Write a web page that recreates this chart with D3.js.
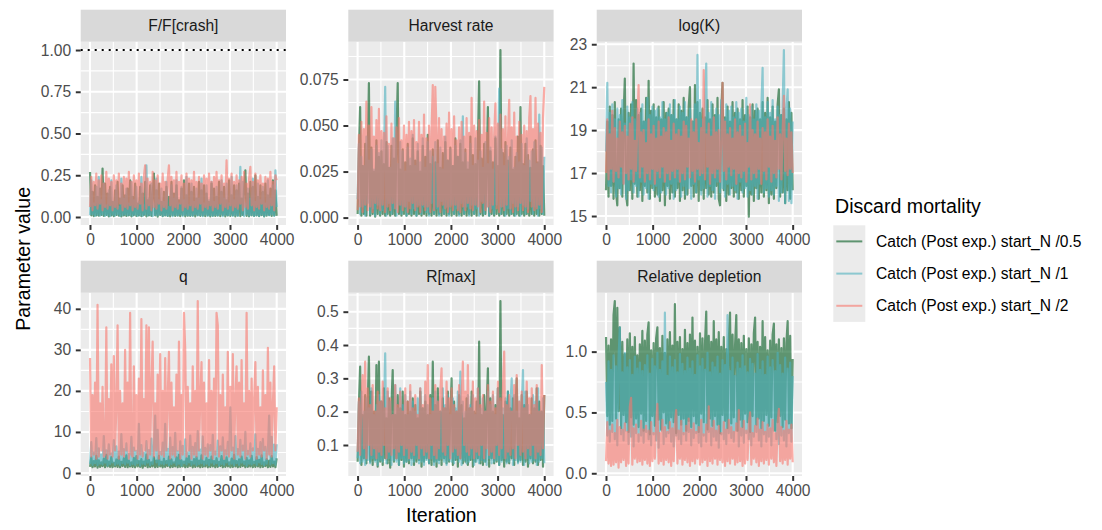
<!DOCTYPE html>
<html><head><meta charset="utf-8">
<script src="https://cdn.jsdelivr.net/npm/d3@7"></script>
<style>
body{margin:0;background:#fff;}
svg{display:block;font-family:"Liberation Sans",Arial,Helvetica,sans-serif;}
</style></head><body>
<svg id="chart" width="1102" height="530"></svg>
<script>
// ---------------- DATA ----------------
const panelTitles = ["F/F[crash]", "Harvest rate", "log(K)", "q", "R[max]", "Relative depletion"];
const seriesNames = ["Catch (Post exp.) start_N /0.5", "Catch (Post exp.) start_N /1", "Catch (Post exp.) start_N /2"];
const legendTitle = "Discard mortality";
const xTitle = "Iteration";
const yTitle = "Parameter value";
const iterationRange = [1, 4000];
const iterationTicks = [0, 1000, 2000, 3000, 4000];
const iterationTickLabels = ["0", "1000", "2000", "3000", "4000"];

// F/F[crash]
const ffcrash_05 = [0.27,0.01,0.15,0.005,0.19,0.01,0.12,0.008,0.17,0.012,
 0.29,0.006,0.20,0.012,0.14,0.004,0.18,0.01,0.09,0.005,
 0.16,0.012,0.21,0.008,0.11,0.003,0.19,0.01,0.13,0.006,
 0.17,0.01,0.22,0.004,0.12,0.011,0.20,0.007,0.08,0.01,
 0.18,0.005,0.14,0.012,0.21,0.004,0.10,0.009,0.19,0.006,
 0.13,0.26,0.01,0.16,0.002,0.20,0.012,0.09,0.005,0.15,
 0.01,0.18,0.007,0.12,0.004,0.21,0.011,0.14,0.006,0.19,
 0.009,0.10,0.005,0.17,0.012,0.22,0.004,0.13,0.008,0.20,
 0.006,0.15,0.01,0.18,0.003,0.11,0.012,0.21,0.007,0.16,
 0.01,0.19,0.005,0.14,0.011,0.09,0.004,0.20,0.008,0.17,
 0.006,0.12,0.01,0.21,0.005,0.15,0.012,0.18,0.004,0.10,
 0.009,0.22,0.006,0.13,0.011,0.19,0.003,0.16,0.01,0.20,
 0.005,0.11,0.012,0.17,0.28,0.007,0.14,0.004,0.21,0.01,
 0.18,0.006,0.25,0.009,0.12,0.005,0.19,0.011,0.15,0.004,
 0.20,0.008,0.13,0.012,0.17,0.006,0.22,0.01,0.16,0.007];
const ffcrash_1 = [0.01,0.22,0.015,0.08,0.006,0.18,0.012,0.24,0.008,0.10,
 0.014,0.20,0.007,0.07,0.011,0.16,0.005,0.22,0.013,0.09,
 0.008,0.19,0.016,0.06,0.006,0.23,0.01,0.11,0.015,0.17,
 0.009,0.08,0.012,0.21,0.006,0.10,0.014,0.18,0.007,0.09,
 0.011,0.24,0.006,0.07,0.016,0.31,0.008,0.11,0.013,0.20,
 0.005,0.08,0.012,0.23,0.009,0.10,0.015,0.17,0.006,0.09,
 0.011,0.21,0.007,0.06,0.014,0.19,0.005,0.11,0.012,0.22,
 0.008,0.08,0.016,0.18,0.006,0.10,0.013,0.24,0.009,0.07,
 0.011,0.20,0.006,0.09,0.015,0.17,0.008,0.11,0.012,0.23,
 0.005,0.08,0.014,0.19,0.007,0.10,0.011,0.21,0.006,0.09,
 0.013,0.18,0.008,0.07,0.016,0.22,0.005,0.11,0.012,0.20,
 0.009,0.08,0.014,0.24,0.006,0.10,0.011,0.19,0.007,0.09,
 0.30,0.012,0.21,0.005,0.08,0.015,0.17,0.008,0.11,0.013,
 0.23,0.006,0.09,0.011,0.20,0.007,0.10,0.014,0.18,0.005,
 0.08,0.012,0.22,0.009,0.11,0.015,0.19,0.006,0.28,0.06];
const ffcrash_2 = [0.06,0.24,0.04,0.21,0.07,0.26,0.05,0.22,0.08,0.25,
 0.04,0.20,0.06,0.27,0.05,0.23,0.07,0.21,0.04,0.25,
 0.06,0.22,0.05,0.26,0.08,0.20,0.04,0.24,0.06,0.23,
 0.05,0.27,0.07,0.21,0.04,0.25,0.06,0.22,0.05,0.26,
 0.08,0.20,0.04,0.24,0.31,0.05,0.23,0.07,0.21,0.04,
 0.27,0.06,0.22,0.05,0.25,0.08,0.20,0.04,0.26,0.06,
 0.21,0.05,0.23,0.31,0.07,0.24,0.04,0.22,0.06,0.27,
 0.05,0.21,0.08,0.25,0.04,0.20,0.06,0.26,0.05,0.23,
 0.07,0.22,0.04,0.27,0.06,0.21,0.05,0.24,0.08,0.20,
 0.04,0.25,0.06,0.23,0.05,0.26,0.07,0.21,0.04,0.24,
 0.06,0.27,0.05,0.22,0.08,0.25,0.04,0.20,0.06,0.34,
 0.05,0.23,0.07,0.26,0.04,0.21,0.06,0.25,0.05,0.22,
 0.08,0.24,0.04,0.27,0.06,0.20,0.05,0.23,0.30,0.07,
 0.21,0.04,0.26,0.06,0.22,0.05,0.25,0.08,0.20,0.04,
 0.24,0.06,0.23,0.05,0.27,0.07,0.21,0.04,0.25,0.22];
const ffcrashRefLine = 1;
const ffcrashTicks = [0, 0.25, 0.5, 0.75, 1];
const ffcrashTickLabels = ["0.00", "0.25", "0.50", "0.75", "1.00"];

// Harvest rate
const harvest_05 = [0.002,0.035,0.060,0.001,0.028,0.002,0.040,0.001,0.030,0.073,
 0.001,0.038,0.002,0.025,0.0005,0.042,0.002,0.033,0.001,0.036,
 0.002,0.029,0.001,0.041,0.002,0.027,0.001,0.039,0.002,0.032,
 0.001,0.044,0.073,0.002,0.026,0.001,0.037,0.002,0.030,0.001,
 0.040,0.002,0.028,0.001,0.043,0.002,0.031,0.001,0.036,0.002,
 0.025,0.001,0.039,0.002,0.033,0.001,0.045,0.002,0.029,0.001,
 0.037,0.002,0.030,0.001,0.042,0.002,0.027,0.001,0.035,0.002,
 0.041,0.001,0.031,0.002,0.038,0.001,0.028,0.002,0.043,0.001,
 0.033,0.002,0.040,0.001,0.030,0.002,0.037,0.001,0.026,0.002,
 0.044,0.001,0.034,0.002,0.029,0.001,0.039,0.074,0.002,0.032,
 0.001,0.040,0.002,0.027,0.060,0.001,0.036,0.002,0.030,0.001,
 0.043,0.002,0.028,0.001,0.091,0.002,0.035,0.001,0.041,0.002,
 0.031,0.001,0.038,0.002,0.026,0.001,0.033,0.002,0.044,0.001,
 0.060,0.002,0.029,0.001,0.040,0.002,0.034,0.001,0.027,0.002,
 0.037,0.001,0.042,0.002,0.030,0.001,0.039,0.002,0.028,0.001];
const harvest_1 = [0.010,0.040,0.002,0.033,0.006,0.028,0.001,0.044,0.008,0.031,
 0.002,0.037,0.005,0.026,0.001,0.039,0.007,0.035,0.002,0.042,
 0.004,0.030,0.071,0.001,0.039,0.008,0.027,0.002,0.043,0.005,
 0.063,0.001,0.029,0.007,0.041,0.002,0.036,0.006,0.025,0.001,
 0.038,0.009,0.032,0.002,0.045,0.005,0.028,0.001,0.040,0.007,
 0.030,0.002,0.043,0.006,0.027,0.003,0.041,0.001,0.036,0.008,
 0.033,0.002,0.041,0.005,0.029,0.001,0.038,0.009,0.026,0.002,
 0.044,0.006,0.031,0.001,0.037,0.007,0.028,0.002,0.039,0.005,
 0.033,0.001,0.042,0.008,0.055,0.002,0.035,0.006,0.030,0.001,
 0.040,0.007,0.028,0.002,0.043,0.005,0.031,0.001,0.036,0.009,
 0.027,0.002,0.041,0.006,0.029,0.001,0.038,0.005,0.026,0.002,
 0.044,0.007,0.031,0.070,0.002,0.037,0.006,0.028,0.001,0.039,
 0.005,0.033,0.002,0.042,0.008,0.027,0.001,0.035,0.006,0.030,
 0.001,0.040,0.007,0.028,0.002,0.043,0.005,0.031,0.009,0.036,
 0.002,0.041,0.006,0.029,0.001,0.056,0.005,0.038,0.002,0.033];
const harvest_2 = [0.004,0.045,0.006,0.052,0.003,0.048,0.007,0.063,0.004,0.050,
 0.006,0.060,0.003,0.044,0.008,0.053,0.005,0.059,0.004,0.047,
 0.007,0.046,0.003,0.055,0.006,0.040,0.004,0.051,0.008,0.043,
 0.005,0.049,0.003,0.054,0.007,0.042,0.004,0.050,0.006,0.045,
 0.003,0.052,0.005,0.047,0.008,0.053,0.004,0.041,0.006,0.052,
 0.003,0.045,0.007,0.056,0.004,0.043,0.006,0.050,0.003,0.047,
 0.072,0.004,0.071,0.046,0.006,0.054,0.003,0.048,0.007,0.044,
 0.005,0.051,0.003,0.057,0.006,0.048,0.004,0.055,0.007,0.042,
 0.004,0.049,0.003,0.052,0.006,0.044,0.004,0.054,0.008,0.046,
 0.005,0.065,0.004,0.050,0.007,0.047,0.006,0.053,0.003,0.045,
 0.008,0.063,0.004,0.046,0.006,0.054,0.003,0.049,0.007,0.044,
 0.062,0.005,0.051,0.003,0.056,0.006,0.048,0.004,0.055,0.007,
 0.042,0.064,0.005,0.049,0.003,0.057,0.006,0.044,0.004,0.052,
 0.008,0.045,0.004,0.050,0.006,0.047,0.003,0.054,0.066,0.006,
 0.048,0.004,0.065,0.005,0.051,0.007,0.046,0.003,0.054,0.071];
const harvestTicks = [0, 0.025, 0.05, 0.075];
const harvestTickLabels = ["0.000", "0.025", "0.050", "0.075"];

// log(K)
const logK_05 = [16.2,19.4,15.9,20.1,16.4,19.7,15.8,20.3,16.1,15.5,
 19.5,16.3,20.0,15.9,19.6,21.4,16.0,15.5,19.8,16.2,
 20.2,15.8,22.1,16.5,20.4,15.9,19.7,16.2,20.0,15.7,
 19.4,16.4,20.5,16.1,21.3,15.8,19.9,16.3,20.2,15.9,
 19.6,16.0,20.1,15.7,19.5,16.2,20.3,15.5,19.8,16.4,
 20.0,15.8,19.7,16.1,20.4,15.9,19.5,16.3,20.2,15.7,
 19.9,16.2,20.5,15.8,19.6,16.0,20.1,21.0,16.4,19.4,
 15.9,21.1,16.1,20.3,15.7,19.8,16.2,20.0,15.8,19.6,
 16.3,20.4,16.0,19.5,15.9,20.2,16.1,19.7,16.4,20.5,
 15.8,15.5,19.9,21.2,16.2,19.6,15.7,20.1,16.0,19.4,
 16.3,20.3,15.9,19.8,16.1,20.0,15.8,19.5,16.2,20.4,
 15.9,19.7,16.4,20.1,14.97,19.6,16.0,20.2,15.7,19.9,
 16.3,20.0,15.8,19.5,16.1,20.3,15.9,19.8,16.2,20.5,
 15.6,19.6,16.0,20.1,15.8,19.4,16.3,20.2,20.9,15.9,
 19.7,16.1,20.0,15.6,19.5,16.2,20.3,15.8,19.8,16.2];
const logK_1 = [18.0,21.2,16.4,19.8,16.1,20.2,16.6,19.5,15.9,20.0,
 16.3,19.7,16.0,20.4,16.5,19.3,15.8,20.1,16.2,19.6,
 16.7,20.3,16.1,19.5,16.4,20.0,15.9,19.8,16.6,20.2,
 16.0,19.4,16.3,20.5,15.8,19.7,16.5,20.1,16.2,19.9,
 16.4,20.0,15.9,19.6,16.1,20.3,16.6,19.5,16.0,19.8,
 16.3,20.2,16.5,19.7,15.8,20.4,16.2,19.5,16.6,20.1,
 15.9,19.8,16.4,20.3,16.0,19.6,16.3,20.0,15.8,19.4,
 16.5,20.2,16.1,22.5,16.7,20.4,16.0,19.5,16.3,20.1,
 22.1,15.9,19.8,16.4,20.3,16.2,19.6,15.8,20.0,16.6,
 19.7,16.1,20.4,16.3,19.5,15.9,20.2,16.5,19.9,16.0,
 20.1,16.4,19.6,16.2,20.3,15.8,19.8,16.6,20.0,16.1,
 19.4,16.3,20.5,15.9,19.7,16.2,20.1,16.0,19.5,16.4,
 20.2,15.8,19.9,16.5,20.0,21.9,16.1,19.6,16.3,20.3,
 15.9,19.8,16.2,20.4,16.0,19.5,16.4,20.1,15.7,19.7,
 16.1,20.2,22.73,15.6,19.9,20.9,15.7,20.0,15.6,19.4];
const logK_2 = [17.0,19.5,16.7,18.8,17.2,19.9,16.6,19.1,17.1,18.6,
 16.8,19.4,17.3,18.9,16.5,19.2,17.0,18.7,16.7,19.3,
 17.2,19.6,16.6,18.5,17.1,19.3,21.1,16.8,18.9,17.3,
 19.0,16.6,18.4,17.0,19.5,16.7,18.8,17.2,19.2,16.5,
 18.6,17.1,19.4,16.8,18.7,17.3,19.1,16.6,18.9,17.0,
 19.6,16.7,18.5,17.1,19.3,16.8,18.8,17.2,19.0,16.6,
 18.7,17.0,19.4,16.7,19.2,17.3,18.6,16.8,19.5,17.1,
 18.9,16.6,19.5,17.2,18.4,16.9,19.1,17.0,21.8,16.7,
 18.8,17.3,19.3,16.5,18.7,17.0,19.6,16.8,18.9,17.2,
 19.0,16.6,18.5,21.2,17.1,19.4,16.7,18.8,17.3,19.1,
 16.9,18.6,17.2,19.5,16.5,18.9,17.0,19.2,16.8,18.7,
 17.1,19.3,16.6,18.4,17.3,20.2,16.7,19.0,17.0,18.8,
 16.8,19.4,17.2,18.6,16.5,19.1,17.1,18.9,16.7,19.5,
 17.3,18.7,16.6,19.2,17.0,18.5,16.8,19.6,17.2,18.8,
 16.7,19.0,20.6,17.1,18.6,16.9,19.3,17.2,18.9,17.0];
const logKTicks = [15, 17, 19, 21, 23];
const logKTickLabels = ["15", "17", "19", "21", "23"];

// q
const q_05 = [1.5,3.8,1.4,2.9,1.6,4.2,1.3,3.1,1.5,2.6,
 1.7,3.5,1.4,4.4,1.6,2.8,1.5,3.9,1.4,2.5,
 1.6,3.3,1.5,4.0,1.4,2.7,1.7,3.6,1.5,4.3,
 1.4,3.0,1.6,2.6,1.5,3.7,1.4,4.1,1.6,2.9,
 1.5,3.4,1.3,2.8,1.7,4.5,1.4,3.2,1.5,2.6,
 1.6,3.9,1.4,3.0,1.5,4.2,1.6,2.7,1.4,3.5,
 1.5,2.9,1.7,4.0,1.4,3.3,1.5,2.6,1.6,3.8,
 1.4,4.4,1.5,3.1,1.6,2.8,1.4,3.6,1.5,4.1,
 1.7,2.7,1.4,3.4,1.5,3.9,1.6,3.0,1.4,4.3,
 1.5,2.8,1.6,3.7,1.4,3.2,1.5,4.0,1.6,2.9,
 1.4,3.6,1.5,2.7,1.7,4.1,1.4,3.0,1.5,3.8,
 1.6,2.6,1.4,3.5,1.5,4.4,1.6,2.9,1.4,3.3,
 1.5,4.0,1.7,2.8,1.4,3.7,1.5,3.1,1.6,4.2,
 1.4,2.7,1.5,3.9,1.6,3.2,1.4,4.3,1.5,2.6,
 1.7,3.4,1.4,3.0,1.5,4.1,1.6,2.8,1.4,3.6];
const q_1 = [2.2,7.5,2.0,5.0,2.4,8.5,1.9,6.0,2.3,4.5,
 2.1,9.0,2.5,5.5,1.8,7.0,2.2,4.8,2.6,8.0,
 2.0,6.5,2.3,5.2,1.9,9.5,2.4,5.8,2.1,7.2,
 2.5,4.6,1.9,8.8,2.2,6.2,2.0,5.4,2.4,12,
 1.8,6.8,2.3,4.9,2.1,7.8,2.5,5.6,1.9,8.4,
 2.2,6.0,14,2.6,10.5,2.0,5.1,2.3,7.4,2.1,
 12,2.4,5.9,1.9,8.6,2.2,6.3,2.5,9.8,2.0,
 5.3,2.3,7.7,1.8,6.6,2.4,8.2,2.1,5.0,2.6,
 9.1,2.0,6.4,2.3,7.3,1.9,10.2,2.2,5.7,2.4,
 8.9,2.0,6.1,2.3,7.0,1.9,6.8,2.5,9.3,2.1,
 5.2,2.4,7.9,1.8,6.5,2.2,8.7,2.0,5.5,2.6,
 7.6,2.1,16,2.3,6.2,1.9,9.0,2.4,5.8,2.0,
 8.1,2.5,6.7,2.2,10.0,1.8,5.4,2.3,7.2,2.1,
 6.0,2.4,9.4,2.0,5.9,2.6,7.5,2.2,8.3,1.9,
 6.4,2.3,5.1,14,2.1,8.8,2.4,6.9,2.0,7.0];
const q_2 = [28,4,19,4.5,22,3.5,41,4,17,5.5,
 21,4,4.5,35.5,3.5,18,4.5,26.5,4,28.5,
 5.5,16,36,3.5,20,4.5,17,4,30,5.5,
 22,3.5,39,4.5,4,26,5.5,19,3.5,23,
 4.5,37.5,4,18,5.5,36,3.5,35.5,4.5,21,
 32,4,17,5.5,24,3.5,29,4.5,20,4,
 28,5.5,18,29.5,3.5,22,4.5,16,4,24,
 5.5,32,3.5,19,4.5,39,30,4,21,5.5,
 17,3.5,26,4.5,20,4,41.9,5.5,18,27,
 3.5,22,4.5,17,4,27.5,5.5,20,3.5,23,
 4.5,39,36,4,19,5.5,24,3.5,16,4.5,
 29.5,4,21,5.5,29,3.5,18,26,4.5,22,
 4,27.5,5.5,17,3.5,39,4.5,20,4,23,
 5.5,18,27,3.5,21,4.5,16,4,25,5.5,
 19,3.5,30.5,4.5,22,4,17,26,5.5,16];
const qTicks = [0, 10, 20, 30, 40];
const qTickLabels = ["0", "10", "20", "30", "40"];

// R[max]
const rmax_05 = [0.05,0.22,0.335,0.04,0.19,0.06,0.25,0.045,0.21,0.365,
 0.05,0.26,0.04,0.20,0.055,0.34,0.035,0.35,0.05,0.23,
 0.04,0.27,0.06,0.18,0.045,0.24,0.032,0.22,0.325,0.05,
 0.19,0.06,0.25,0.04,0.21,0.055,0.26,0.035,0.19,0.05,
 0.23,0.045,0.20,0.06,0.24,0.04,0.22,0.05,0.18,0.055,
 0.26,0.035,0.21,0.05,0.23,0.06,0.19,0.045,0.25,0.04,
 0.35,0.05,0.22,0.035,0.27,0.055,0.20,0.04,0.24,0.06,
 0.21,0.045,0.26,0.05,0.19,0.30,0.04,0.23,0.055,0.20,
 0.035,0.25,0.06,0.22,0.045,0.18,0.05,0.24,0.04,0.21,
 0.055,0.26,0.035,0.20,0.05,0.23,0.06,0.41,0.045,0.19,
 0.04,0.25,0.05,0.21,0.33,0.035,0.24,0.06,0.20,0.045,
 0.22,0.05,0.27,0.04,0.532,0.055,0.19,0.035,0.23,0.05,
 0.26,0.045,0.21,0.06,0.24,0.04,0.20,0.30,0.05,0.18,
 0.055,0.25,0.04,0.22,0.05,0.26,0.035,0.19,0.06,0.24,
 0.045,0.21,0.05,0.27,0.04,0.23,0.055,0.20,0.035,0.25];
const rmax_1 = [0.06,0.23,0.045,0.26,0.05,0.20,0.04,0.24,0.055,0.21,
 0.045,0.27,0.06,0.19,0.05,0.22,0.04,0.25,0.055,0.23,
 0.05,0.20,0.375,0.045,0.26,0.06,0.23,0.04,0.19,0.055,
 0.28,0.05,0.21,0.04,0.27,0.06,0.22,0.045,0.25,0.05,
 0.19,0.055,0.26,0.04,0.23,0.05,0.20,0.06,0.24,0.045,
 0.27,0.05,0.21,0.04,0.25,0.055,0.22,0.045,0.19,0.06,
 0.24,0.04,0.26,0.05,0.23,0.045,0.20,0.06,0.27,0.05,
 0.22,0.04,0.25,0.055,0.19,0.05,0.24,0.045,0.21,0.06,
 0.26,0.05,0.32,0.04,0.23,0.055,0.20,0.045,0.25,0.05,
 0.22,0.06,0.25,0.04,0.19,0.05,0.27,0.045,0.21,0.055,
 0.24,0.05,0.20,0.04,0.26,0.06,0.22,0.045,0.25,0.05,
 0.19,0.055,0.27,0.04,0.23,0.05,0.21,0.06,0.24,0.045,
 0.26,0.05,0.22,0.30,0.04,0.25,0.055,0.20,0.045,0.23,
 0.05,0.21,0.325,0.04,0.26,0.06,0.22,0.045,0.19,0.05,
 0.25,0.055,0.23,0.04,0.27,0.05,0.20,0.06,0.24,0.045];
const rmax_2 = [0.08,0.24,0.07,0.22,0.31,0.09,0.35,0.06,0.27,0.10,
 0.22,0.07,0.28,0.09,0.20,0.06,0.26,0.08,0.23,0.07,
 0.29,0.10,0.21,0.06,0.27,0.08,0.24,0.07,0.19,0.09,
 0.28,0.06,0.22,0.08,0.26,0.10,0.20,0.07,0.27,0.09,
 0.23,0.06,0.28,0.08,0.21,0.07,0.25,0.10,0.19,0.06,
 0.27,0.09,0.22,0.07,0.29,0.08,0.34,0.06,0.24,0.10,
 0.20,0.07,0.28,0.06,0.23,0.09,0.26,0.33,0.08,0.21,
 0.07,0.29,0.10,0.24,0.06,0.27,0.08,0.22,0.09,0.20,
 0.07,0.28,0.06,0.23,0.35,0.10,0.26,0.08,0.34,0.07,
 0.21,0.09,0.29,0.06,0.24,0.08,0.27,0.07,0.22,0.10,
 0.25,0.06,0.20,0.09,0.28,0.07,0.23,0.08,0.26,0.06,
 0.21,0.10,0.29,0.07,0.24,0.09,0.27,0.38,0.06,0.22,
 0.08,0.25,0.07,0.20,0.09,0.28,0.06,0.31,0.10,0.23,
 0.07,0.26,0.08,0.21,0.06,0.29,0.09,0.24,0.07,0.27,
 0.10,0.22,0.06,0.28,0.08,0.20,0.07,0.34,0.09,0.25];
const rmaxTicks = [0.1, 0.2, 0.3, 0.4, 0.5];
const rmaxTickLabels = ["0.1", "0.2", "0.3", "0.4", "0.5"];

// Relative depletion
const depl_05 = [1.12,0.47,1.05,0.40,1.10,0.43,1.30,1.416,0.45,1.36,
 0.51,1.20,0.37,1.08,0.48,0.98,0.42,1.10,0.34,1.15,
 0.46,1.04,0.40,1.12,0.45,0.97,0.38,1.06,0.49,1.17,
 0.35,1.09,0.43,1.14,1.24,0.32,1.01,0.47,1.07,0.39,
 1.11,1.20,0.44,1.03,0.36,1.13,0.50,0.99,0.41,1.10,
 0.37,1.16,0.46,1.05,0.42,1.39,0.33,1.08,0.48,1.12,
 0.40,1.02,0.45,1.18,0.35,1.07,0.43,1.14,0.38,1.28,
 0.47,1.09,0.41,1.04,0.34,1.15,0.49,1.11,0.42,1.06,
 1.33,0.36,1.13,0.45,1.08,0.39,1.25,0.47,1.10,0.40,
 1.16,0.33,1.04,0.48,1.12,0.43,1.02,0.37,1.09,1.32,
 0.41,1.14,0.46,1.05,1.30,0.35,1.10,0.44,1.07,0.38,
 1.13,0.49,1.02,0.42,1.11,0.34,1.06,0.47,1.15,1.28,
 0.40,1.08,0.45,1.04,0.37,1.25,0.43,1.12,0.48,1.01,
 0.39,1.09,0.46,1.14,1.23,0.35,1.06,0.42,1.10,0.47,
 1.03,0.38,1.11,0.44,1.07,1.25,0.41,1.13,0.37,0.94];
const depl_1 = [0.75,0.31,0.92,0.26,0.85,0.34,0.97,0.28,0.88,0.23,
 0.95,1.20,0.32,0.83,0.27,0.99,0.35,0.87,0.24,0.93,
 0.30,0.81,0.22,0.96,0.33,0.86,0.26,0.91,0.31,0.84,
 0.25,0.89,0.34,0.97,0.28,0.82,0.23,0.94,0.32,0.88,
 0.27,0.99,0.21,0.85,0.35,0.92,0.24,1.32,0.30,0.80,
 0.33,0.96,0.26,0.87,0.22,0.93,0.31,0.83,0.28,0.98,
 0.24,0.90,0.32,0.84,0.27,0.95,0.34,0.86,0.23,0.92,
 0.29,0.81,0.33,0.97,0.25,0.88,0.22,0.94,0.31,0.85,
 0.26,0.99,0.34,0.83,0.23,0.91,0.30,0.87,0.27,0.96,
 0.21,0.82,0.32,0.93,0.28,0.89,0.24,1.30,0.33,0.84,
 0.29,0.95,0.26,0.80,0.35,0.91,0.22,0.86,0.31,0.97,
 0.25,0.88,0.33,0.83,0.28,0.94,0.23,0.90,0.30,0.82,
 0.34,0.98,0.27,0.85,0.22,0.92,0.32,0.81,0.26,0.96,
 0.30,0.87,0.23,0.93,0.35,0.84,0.28,0.99,0.24,0.89,
 0.31,0.82,0.27,0.95,0.22,0.86,0.33,0.91,0.26,0.80];
const depl_2 = [0.10,0.42,0.08,0.35,0.06,0.40,0.07,0.33,0.09,0.44,
 0.046,0.38,0.09,0.36,0.11,0.41,0.06,0.34,0.08,0.55,
 0.62,0.07,0.37,0.12,0.40,0.09,0.32,0.10,0.43,0.07,
 0.36,0.11,0.39,0.08,0.35,0.06,0.42,0.10,0.33,0.12,
 0.41,0.57,0.08,0.33,0.10,0.44,0.07,0.38,0.11,0.34,
 0.09,0.42,0.06,0.37,0.10,0.40,0.52,0.08,0.35,0.12,
 0.43,0.07,0.33,0.11,0.39,0.09,0.45,0.06,0.36,0.10,
 0.41,0.08,0.34,0.12,0.38,0.07,0.44,0.09,0.32,0.11,
 0.40,0.06,0.55,0.10,0.37,0.08,0.43,0.12,0.35,0.07,
 0.39,0.11,0.33,0.09,0.42,0.06,0.36,0.10,0.44,0.08,
 0.38,0.12,0.34,0.07,0.41,0.09,0.52,0.10,0.37,0.06,
 0.43,0.08,0.35,0.11,0.40,0.50,0.07,0.33,0.12,0.39,
 0.09,0.45,0.06,0.36,0.10,0.42,0.08,0.34,0.11,0.40,
 0.07,0.37,0.12,0.44,0.09,0.33,0.06,0.41,0.53,0.10,
 0.38,0.08,0.35,0.11,0.43,0.07,0.36,0.12,0.40,0.09];
const deplTicks = [0, 0.5, 1.0];
const deplTickLabels = ["0.0", "0.5", "1.0"];

// ---------------- STYLE / LAYOUT ----------------
const seriesColors = ["#005A1E", "#4DB1BE", "#F8766D"];
const lineAlpha = 0.6;
const traceWidth = 2.2;
const L = {colX: [80.7, 348.3, 596.7], rowY: [41.7, 292.7], w: 205.3, h: 183.3, strip: 32};
const FONT = '"Liberation Sans", Arial, Helvetica, sans-serif';

const panels = [
  {title: panelTitles[0], series: [ffcrash_05, ffcrash_1, ffcrash_2], ticks: ffcrashTicks, labels: ffcrashTickLabels, refLine: ffcrashRefLine},
  {title: panelTitles[1], series: [harvest_05, harvest_1, harvest_2], ticks: harvestTicks, labels: harvestTickLabels},
  {title: panelTitles[2], series: [logK_05, logK_1, logK_2], ticks: logKTicks, labels: logKTickLabels},
  {title: panelTitles[3], series: [q_05, q_1, q_2], ticks: qTicks, labels: qTickLabels},
  {title: panelTitles[4], series: [rmax_05, rmax_1, rmax_2], ticks: rmaxTicks, labels: rmaxTickLabels},
  {title: panelTitles[5], series: [depl_05, depl_1, depl_2], ticks: deplTicks, labels: deplTickLabels}
];

function expand(ext) { const r = ext[1] - ext[0]; return [ext[0] - 0.05 * r, ext[1] + 0.05 * r]; }
function minorBreaks(major, dom) {
  const step = major[1] - major[0], out = [];
  for (let i = -1; i < major.length; i++) {
    const m = major[0] + (i + 0.5) * step;
    if (m >= dom[0] && m <= dom[1]) out.push(m);
  }
  return out;
}

const svg = d3.select("#chart");
svg.append("rect").attr("width", 1102).attr("height", 530).attr("fill", "#ffffff");

panels.forEach((p, k) => {
  const x0 = L.colX[k % 3], y0 = L.rowY[Math.floor(k / 3)];
  const n = p.series[0].length;
  const iters = d3.range(n).map(i => iterationRange[0] + i * (iterationRange[1] - iterationRange[0]) / (n - 1));
  const xDom = expand(iterationRange);
  const x = d3.scaleLinear().domain(xDom).range([x0, x0 + L.w]);
  let ext = d3.extent(p.series.flat());
  if (p.refLine != null) ext = [Math.min(ext[0], p.refLine), Math.max(ext[1], p.refLine)];
  const yDom = expand(ext);
  const y = d3.scaleLinear().domain(yDom).range([y0 + L.h, y0]);

  const g = svg.append("g");
  g.append("rect").attr("x", x0).attr("y", y0).attr("width", L.w).attr("height", L.h).attr("fill", "#EBEBEB");

  minorBreaks(p.ticks, yDom).forEach(v => g.append("line").attr("x1", x0).attr("x2", x0 + L.w)
    .attr("y1", y(v)).attr("y2", y(v)).attr("stroke", "#fff").attr("stroke-width", 1.1));
  minorBreaks(iterationTicks, xDom).forEach(v => g.append("line").attr("y1", y0).attr("y2", y0 + L.h)
    .attr("x1", x(v)).attr("x2", x(v)).attr("stroke", "#fff").attr("stroke-width", 1.1));
  p.ticks.forEach(v => g.append("line").attr("x1", x0).attr("x2", x0 + L.w)
    .attr("y1", y(v)).attr("y2", y(v)).attr("stroke", "#fff").attr("stroke-width", 2.1));
  iterationTicks.forEach(v => g.append("line").attr("y1", y0).attr("y2", y0 + L.h)
    .attr("x1", x(v)).attr("x2", x(v)).attr("stroke", "#fff").attr("stroke-width", 2.1));

  const clipId = "clip" + k;
  svg.append("clipPath").attr("id", clipId).append("rect").attr("x", x0).attr("y", y0).attr("width", L.w).attr("height", L.h);
  const tg = g.append("g").attr("clip-path", `url(#${clipId})`);
  const line = d3.line().x((d, i) => x(iters[i])).y(d => y(d));
  p.series.forEach((s, si) => {
    tg.append("path").datum(s).attr("d", line).attr("fill", "none")
      .attr("stroke", seriesColors[si]).attr("stroke-opacity", lineAlpha)
      .attr("stroke-width", traceWidth).attr("stroke-linejoin", "round").attr("stroke-linecap", "butt");
  });

  if (p.refLine != null) {
    g.append("line").attr("x1", x0).attr("x2", x0 + L.w).attr("y1", y(p.refLine)).attr("y2", y(p.refLine))
      .attr("stroke", "#000").attr("stroke-width", 2).attr("stroke-dasharray", "2,5");
  }

  const ya = svg.append("g").attr("transform", `translate(${x0},0)`)
    .call(d3.axisLeft(y).tickValues(p.ticks).tickFormat((d, i) => p.labels[i]).tickSize(4.9).tickPadding(4.6));
  const xa = svg.append("g").attr("transform", `translate(0,${y0 + L.h})`)
    .call(d3.axisBottom(x).tickValues(iterationTicks).tickFormat((d, i) => iterationTickLabels[i]).tickSize(4.9).tickPadding(4.2));
  [ya, xa].forEach(a => {
    a.attr("font-family", FONT).attr("font-size", "15.6px");
    a.select(".domain").remove();
    a.selectAll(".tick line").attr("stroke", "#333333").attr("stroke-width", 2);
    a.selectAll(".tick text").attr("fill", "#4D4D4D");
  });

  svg.append("rect").attr("x", x0).attr("y", y0 - L.strip).attr("width", L.w).attr("height", L.strip).attr("fill", "#D9D9D9");
  svg.append("text").attr("x", x0 + L.w / 2).attr("y", y0 - L.strip / 2).attr("dy", "0.36em")
    .attr("text-anchor", "middle").attr("font-size", "15.6px").attr("fill", "#1A1A1A").attr("font-family", FONT).text(p.title);
});

svg.append("text").attr("transform", `translate(22.5,${(L.rowY[0] + L.rowY[1] + L.h) / 2}) rotate(-90)`)
  .attr("text-anchor", "middle").attr("dy", "0.36em").attr("font-size", "19.6px").attr("fill", "#000").attr("font-family", FONT).text(yTitle);
svg.append("text").attr("x", (L.colX[0] + L.colX[2] + L.w) / 2).attr("y", 521.5)
  .attr("text-anchor", "middle").attr("font-size", "19.6px").attr("fill", "#000").attr("font-family", FONT).text(xTitle);

const lg = svg.append("g");
lg.append("text").attr("x", 835).attr("y", 213.3).attr("font-size", "19.6px").attr("fill", "#000").attr("font-family", FONT).text(legendTitle);
const keyTop = 225.3, keyH = 32.2, keyX = 833.3, keyW = 32;
lg.append("rect").attr("x", keyX).attr("y", keyTop).attr("width", keyW).attr("height", keyH * seriesNames.length).attr("fill", "#EBEBEB");
seriesNames.forEach((nm, i) => {
  const cy = keyTop + keyH * (i + 0.5);
  lg.append("line").attr("x1", keyX + 3).attr("x2", keyX + keyW - 3).attr("y1", cy).attr("y2", cy)
    .attr("stroke", seriesColors[i]).attr("stroke-opacity", lineAlpha).attr("stroke-width", 2);
  lg.append("text").attr("x", 876).attr("y", cy).attr("dy", "0.36em").attr("font-size", "15.6px")
    .attr("fill", "#000").attr("font-family", FONT).text(nm);
});
</script>
</body></html>
